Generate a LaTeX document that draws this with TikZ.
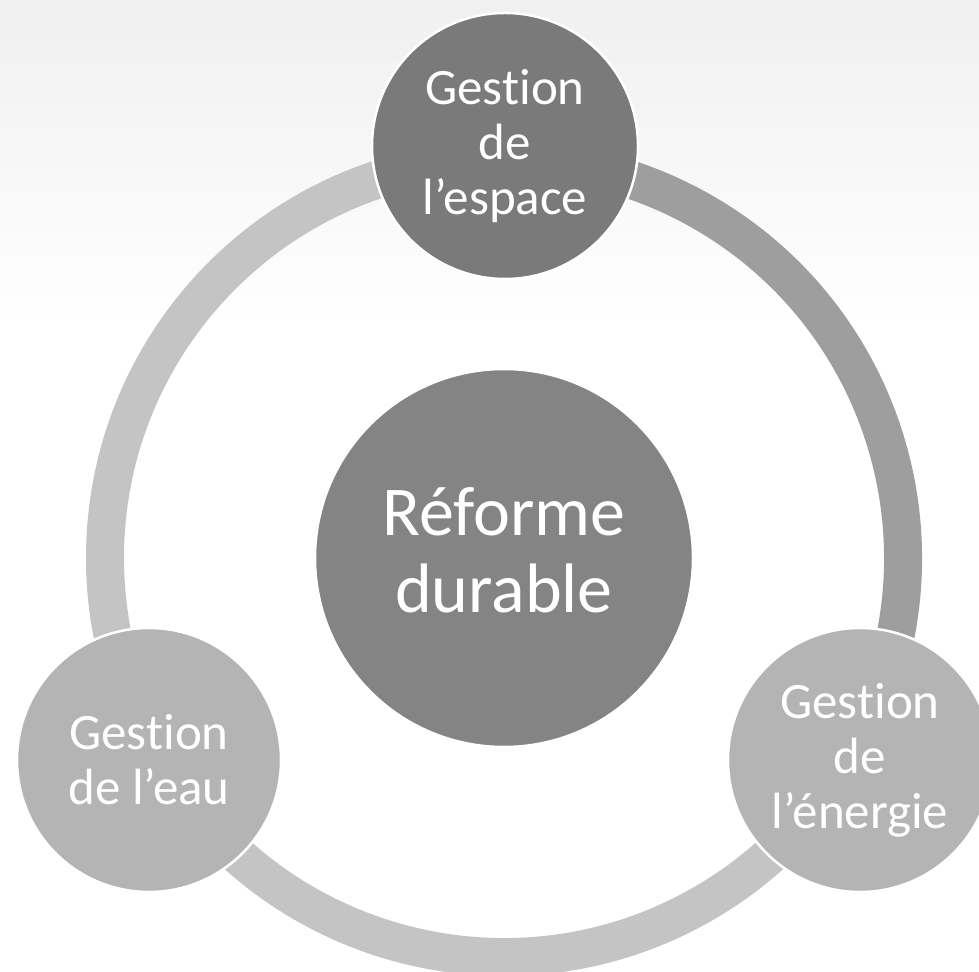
\documentclass[tikz,border=0pt]{standalone}
\usepackage{fontspec}
\setmainfont{Carlito}[Ligatures=NoCommon]

\definecolor{ringlight}{HTML}{C4C4C4}
\definecolor{ringdark}{HTML}{9E9E9E}
\definecolor{topfill}{HTML}{7A7A7A}
\definecolor{hubfill}{HTML}{848484}
\definecolor{sidefill}{HTML}{B4B4B4}

\tikzset{
  disc/.style={circle, draw=white, line width=2.5pt, inner sep=0pt,
    text=white, align=center, font=\fontsize{51}{55}\selectfont},
  ringarc/.style={line width=38pt}
}

\begin{document}
\begin{tikzpicture}[x=1pt, y=1pt]
    \useasboundingbox (0,0) rectangle (979,971);
    \clip (0,0) rectangle (979,971);
    % Background
    \fill[white] (0,0) rectangle (979,971);
    \shade[top color=black!6, bottom color=white] (0,640) rectangle (979,971);

    % Ring around the hub
    \coordinate (ringc) at (504,413);
    \draw[ringarc, ringlight] (ringc) ++(90:399) arc[start angle=90, end angle=210, radius=399];
    \draw[ringarc, ringlight] (ringc) ++(210:399) arc[start angle=210, end angle=330, radius=399];
    \draw[ringarc, ringdark] (ringc) ++(330:399) arc[start angle=330, end angle=450, radius=399];

    % Define nodes for the diagram
    \node[disc, fill=hubfill, minimum size=378pt, text depth=16pt,
      font=\fontsize{70}{77}\selectfont] (hub) at (ringc) {Réforme\\durable};
    \node[disc, fill=topfill, minimum size=266pt] (space) at (505,825) {Gestion\\de\\l’espace};
    \node[disc, fill=sidefill, minimum size=264pt] (water) at (149,211) {Gestion\\de l’eau};
    \node[disc, fill=sidefill, minimum size=264pt] (energy) at (860,211) {Gestion\\de\\l’énergie};
\end{tikzpicture}
\end{document}
